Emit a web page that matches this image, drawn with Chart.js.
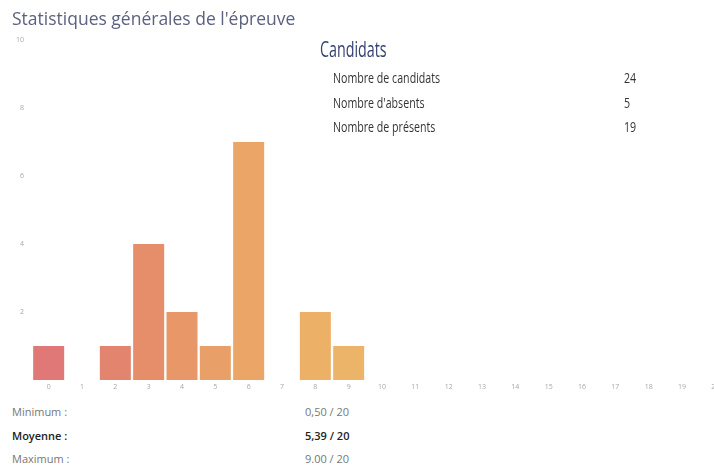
<!DOCTYPE html>
<html>
<head>
<meta charset="utf-8">
<script src="https://cdn.jsdelivr.net/npm/chart.js@4"></script>
<style>
  html, body { margin: 0; padding: 0; background: #fff; overflow: hidden; width: 714px; height: 466px; }
  #wrap { position: absolute; left: 0; top: 0; width: 732px; height: 400px; }
  .txt { position: absolute; white-space: nowrap; }
  #title { left: 12px; top: 6px; font: 17.5px "Open Sans", sans-serif; color: #5c6180; }
  #cand { left: 320px; top: 33px; font: 22px "Open Sans", sans-serif; color: #34426f; transform: scaleX(0.65); transform-origin: left top; }
  .row { font: 14px "Open Sans", sans-serif; color: #333; transform: scaleX(0.76); transform-origin: left top; }
  .sum { font: 11px "Open Sans", sans-serif; color: #777; }
  .sum.b { color: #222; font-weight: 600; }
</style>
</head>
<body>
<div id="wrap"><canvas id="notesChart" width="732" height="400"></canvas></div>
<div id="title" class="txt">Statistiques générales de l'épreuve</div>
<div id="cand" class="txt">Candidats</div>
<div id="overlay"></div>
<script>
// notes 0..20 -> nombre de copies
const notes = ["0","1","2","3","4","5","6","7","8","9","10","11","12","13","14","15","16","17","18","19","20"]
const effectifs = [1, 0, 1, 4, 2, 1, 7, 0, 2, 1, 0, 0, 0, 0, 0, 0, 0, 0, 0, 0, 0]
const couleurs = ["#df7877", "#e27e72", "#e3846f", "#e68d6a", "#e89768", "#e9a068", "#eba667", "#ecab66", "#ecb067", "#ecb469",
    "#ecb66a", "#ecb66a", "#ecb66a", "#ecb66a", "#ecb66a", "#ecb66a", "#ecb66a", "#ecb66a", "#ecb66a", "#ecb66a", "#ecb66a"]
const yTicks = [0, 2, 4, 6, 8, 10]

const candLabels = ["Nombre de candidats", "Nombre d'absents", "Nombre de présents"]
const candValues = ["24", "5", "19"]

const resumeLabels = ["Minimum :", "Moyenne :", "Maximum :"]
const resumeValues = ["0,50 / 20", "5,39 / 20", "9.00 / 20"]

//#region overlay texts
let overlay = document.getElementById("overlay")
candLabels.forEach((label, i) => {
    let top = 68 + i * 24.5
    overlay.innerHTML += `<div class="txt row" style="left:333px;top:${top}px">${label}</div>
        <div class="txt row" style="left:624px;top:${top}px">${candValues[i]}</div>`
})
resumeLabels.forEach((label, i) => {
    let top = 404 + i * 23.5
    let cls = i == 1 ? "sum b" : "sum"
    overlay.innerHTML += `<div class="txt ${cls}" style="left:12px;top:${top}px">${label}</div>
        <div class="txt ${cls}" style="left:305px;top:${top}px">${resumeValues[i]}</div>`
})
//#endregion

//#region chart
const tickFont = { family: "Open Sans", size: 7 }
new Chart("notesChart", {
    type: "bar",
    data: {
        labels: notes,
        datasets: [{
            data: effectifs,
            backgroundColor: couleurs,
            barPercentage: 0.93,
            categoryPercentage: 1
        }]
    },
    options: {
        responsive: false,
        animation: false,
        devicePixelRatio: 1,
        layout: { padding: { top: 40, left: 0, right: 0, bottom: 0 } },
        plugins: { legend: { display: false }, tooltip: { enabled: false } },
        scales: {
            x: {
                grid: { display: false, drawTicks: false },
                border: { display: false },
                ticks: { color: "#a8a8a8", font: tickFont, padding: 3, maxRotation: 0, autoSkip: false },
                afterFit: s => { s.height = 20 }
            },
            y: {
                min: 0,
                max: 10,
                afterBuildTicks: s => { s.ticks = yTicks.map(v => ({ value: v })) },
                grid: { display: false, drawTicks: false },
                border: { display: false },
                ticks: {
                    color: "#a8a8a8", font: tickFont, padding: 8,
                    callback: v => v == 0 ? "" : v
                },
                afterFit: s => { s.width = 32 }
            }
        }
    }
})
//#endregion
</script>
</body>
</html>
